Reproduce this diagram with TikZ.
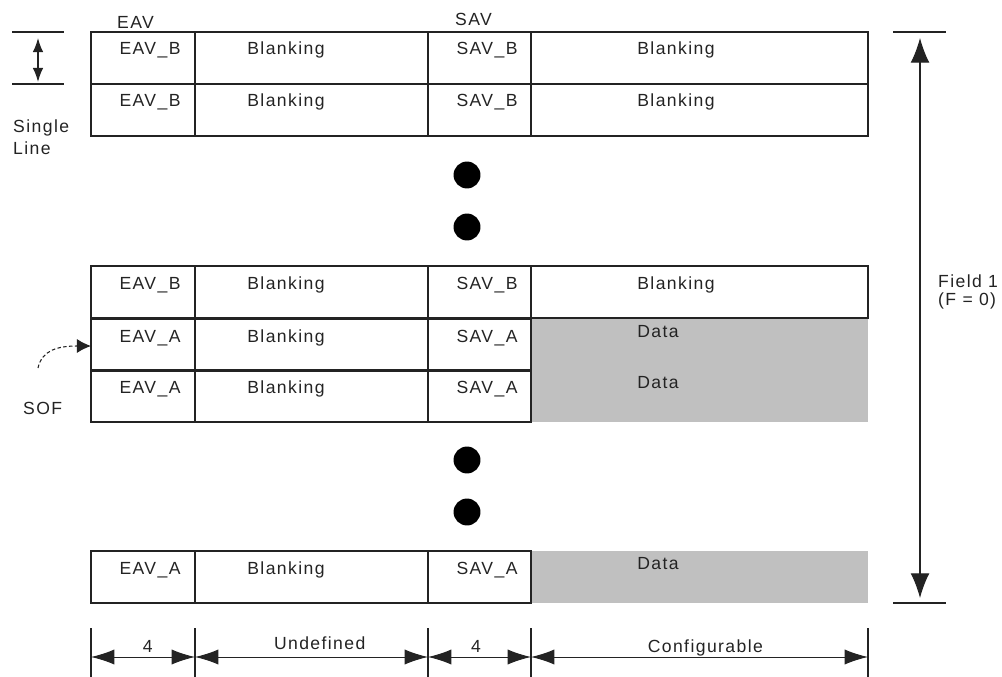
\documentclass[tikz,border=0pt]{standalone}
\usepackage{fontspec}
\setmainfont{Liberation Sans}[LetterSpace=8]
\usepackage{xcolor}
\usetikzlibrary{arrows.meta}
\usetikzlibrary{math}

\definecolor{datagray}{RGB}{192,192,192}
\definecolor{ink}{RGB}{35,35,35}

\tikzset{
  cell/.style={draw=ink, line width=1.2pt},
  lbl/.style={anchor=base, inner sep=0pt, text=ink, font=\fontsize{15}{17}\selectfont},
  dimline/.style={ink, line width=0.8pt, <->, >={Latex[length=20pt,width=13pt]}},
  dimtick/.style={ink, line width=0.9pt},
}

\begin{document}
\begin{tikzpicture}[x=0.03cm, y=-0.03cm]
\tikzmath{
\xa=91; \xb=195; \xc=428; \xd=531; \xe=868;
\h=52;
}
\useasboundingbox (0,0) rectangle (1002,677);

% active lines (data)
\foreach \t [count=\i] in {319,370,551}{
  \fill[datagray] (\xd,\t) rectangle (\xe,\t+\h);
  \draw[cell] (\xa,\t) rectangle (\xd,\t+\h);
  \draw[cell] (\xb,\t) -- (\xb,\t+\h) (\xc,\t) -- (\xc,\t+\h);
  \node[lbl] (eava\i) at (150,\t+23) {EAV\_A};
  \node[lbl] (blka\i) at (286,\t+23) {Blanking};
  \node[lbl] (sava\i) at (487,\t+23) {SAV\_A};
  \node[lbl] (data\i) at (658,\t+18) {Data};
}

% blanking lines
\foreach \t [count=\i] in {32,84,266}{
  \draw[cell] (\xa,\t) rectangle (\xe,\t+\h);
  \draw[cell] (\xb,\t) -- (\xb,\t+\h) (\xc,\t) -- (\xc,\t+\h) (\xd,\t) -- (\xd,\t+\h);
  \node[lbl] (eavb\i) at (150,\t+23) {EAV\_B};
  \node[lbl] (blkb\i) at (286,\t+23) {Blanking};
  \node[lbl] (savb\i) at (487,\t+23) {SAV\_B};
  \node[lbl] (rgtb\i) at (676,\t+23) {Blanking};
}

% more lines
\foreach \y in {175,227,460,512}
  \fill[black] (467,\y) circle (11.5pt);

\node[lbl, anchor=base west] (eav) at (117,29) {EAV};
\node[lbl, anchor=base west] (sav) at (455,26) {SAV};

% single line
\draw[dimtick] (12,32) -- (64,32) (12,84) -- (64,84);
\coordinate (slt) at (38,38);
\coordinate (slb) at (38,82);
\draw[ink, line width=1.2pt, <->, >={Latex[length=12pt,width=9pt]}] (slt) -- (slb);
\node[lbl, anchor=base west] (single) at (13,133) {Single};
\node[lbl, anchor=base west] (line) at (13,155) {Line};

% start of field
\node[lbl, anchor=base west] (sof) at (23,414) {SOF};
\coordinate (sofs) at (38,368);
\coordinate (soft) at (\xa,346);
\draw[ink, line width=0.9pt, dash pattern=on 3pt off 2pt, -{Latex[length=12pt,width=12pt]}] (sofs) .. controls (42,350) and (58,346) .. (soft);

% field 1
\draw[dimtick] (893,32) -- (946,32) (893,603) -- (946,603);
\coordinate (fdt) at (920,38);
\coordinate (fdb) at (920,598);
\draw[ink, line width=0.9pt, <->, >={Latex[length=21pt,width=16pt]}] (fdt) -- (fdb);
\node[lbl, anchor=base west] (field) at (938,287) {Field 1};
\node[lbl, anchor=base west] (fzero) at (938,305) {(F = 0)};

% widths
\foreach \x [count=\i] in {\xa,\xb,\xc,\xd,\xe}{
  \draw[dimtick] (\x,628) -- (\x,677);
  \coordinate (w\i) at (\x,657);
}
\draw[dimline] (w1) -- node[lbl, yshift=4pt, xshift=4pt] (weav) {4} (w2);
\draw[dimline] (w2) -- node[lbl, yshift=6pt, xshift=7pt] (wund) {Undefined} (w3);
\draw[dimline] (w3) -- node[lbl, yshift=4pt, xshift=-3pt] (wsav) {4} (w4);
\draw[dimline] (w4) -- node[lbl, yshift=4pt, xshift=5pt] (wcfg) {Configurable} (w5);

\end{tikzpicture}
\end{document}
